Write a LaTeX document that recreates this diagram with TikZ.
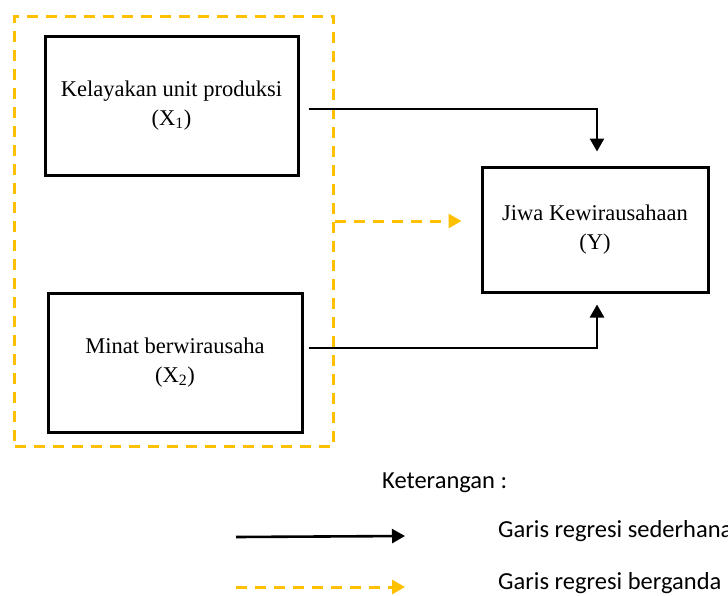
\documentclass[tikz,border=0pt]{standalone}
\usepackage{fontspec}
\setmainfont{Liberation Serif}
\newfontfamily\legendfont{Carlito}
\usetikzlibrary{arrows.meta}
\definecolor{gold}{HTML}{FFC000}
\begin{document}
\begin{tikzpicture}[x=1pt,y=-1pt,
  varbox/.style={draw=black,line width=3pt,minimum width=#1,align=center,
    font=\fontsize{22.5}{29}\selectfont,inner sep=0pt},
  grpbox/.style={draw=gold,line width=3pt,dash pattern=on 11pt off 8pt,
    minimum width=319pt,minimum height=430pt,inner sep=0pt},
  solidarrow/.style={draw=black,line width=2.6pt,-{Triangle[length=13pt,width=14pt]}},
  dasharrow/.style={draw=gold,line width=3pt,dash pattern=on 11pt off 8pt,
    -{Triangle[length=13pt,width=14pt,fill=gold]}},
  legendtext/.style={font=\legendfont\fontsize{24.5}{28}\selectfont,anchor=west,inner sep=0pt}
]
\useasboundingbox (0,0) rectangle (728,595);
\node[grpbox] (grp) at (174,231) {};
\node[varbox=253pt,minimum height=139pt] (x1) at (171.5,105.5)
  {Kelayakan unit produksi\\(X\textsubscript{1})};
\node[varbox=254pt,minimum height=139pt] (x2) at (175,362.5)
  {Minat berwirausaha\\(X\textsubscript{2})};
\node[varbox=226pt,minimum height=125pt] (y) at (595,229.5)
  {Jiwa Kewirausahaan\\(Y)};
\draw[solidarrow,shorten >=14pt] ([xshift=9pt,yshift=-3.5pt]x1.east) -| ([xshift=2pt]y.north);
\draw[solidarrow,shorten >=11pt] ([xshift=5pt,yshift=14.5pt]x2.east) -| ([xshift=2pt]y.south);
\draw[dasharrow,shorten >=19pt] ([yshift=10pt]grp.east) -- ([yshift=10pt]grp.east -| y.west);
% legend
\node[legendtext] (ket) at (382,483) {Keterangan :};
\coordinate (l1a) at (236,537);
\coordinate (l1b) at (405,536);
\coordinate (l2a) at (236,587);
\coordinate (l2b) at (405,587);
\draw[solidarrow] (l1a) -- (l1b);
\draw[dasharrow] (l2a) -- (l2b);
\node[legendtext] (sed) at (498,531) {Garis regresi sederhana};
\node[legendtext] (ber) at (498,583) {Garis regresi berganda};
\end{tikzpicture}
\end{document}
